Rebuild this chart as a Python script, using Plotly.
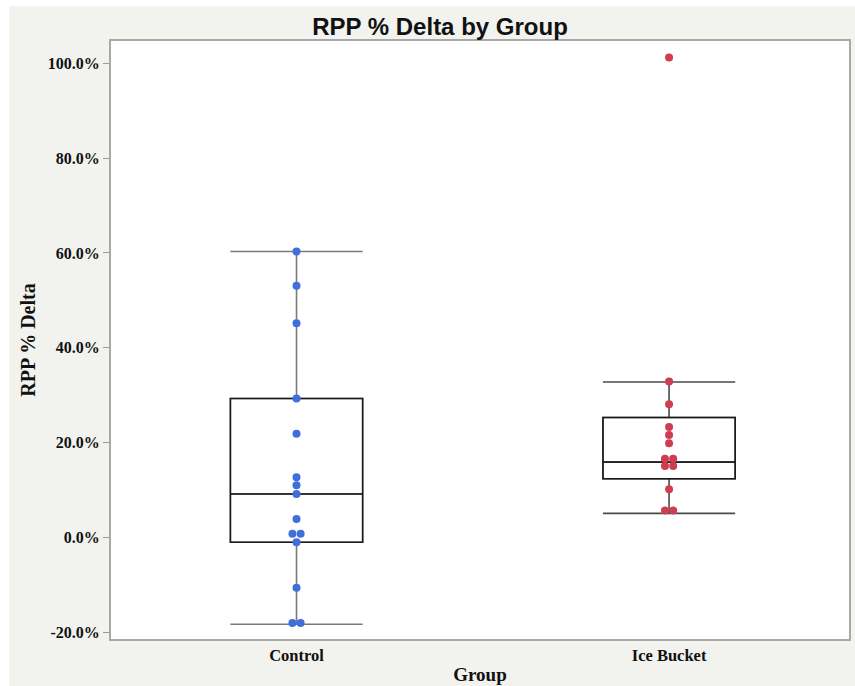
import plotly.graph_objects as go
from collections import Counter

# ---------------- data ----------------
groups = ["Control", "Ice Bucket"]
group_pos = [0, 1]

control_vals = [60.3, 53.1, 45.2, 29.3, 21.9, 12.7, 11.0, 9.2, 3.9,
                0.8, 0.8, -1.0, -10.6, -18.0, -18.0]
ice_vals = [101.2, 32.9, 28.1, 23.3, 21.6, 19.9, 16.6, 16.6, 15.1, 15.1,
            10.2, 5.7, 5.7]

# box statistics as drawn
box_q1 = [-1.0, 12.4]
box_median = [9.2, 15.9]
box_q3 = [29.3, 25.3]
box_low = [-18.3, 5.1]
box_high = [60.3, 32.8]

y_ticks = [-20, 0, 20, 40, 60, 80, 100]

point_colors = ["#3f6fdc", "#cf3d50"]
whisker_colors = ["#7a7a7a", "#4a4a4a"]

serif = "Liberation Serif, Times New Roman, serif"
sans = "Liberation Sans, Arial, sans-serif"

fig = go.Figure()

BOX_W = 0.355
for i, g in enumerate(groups):
    # gray box + whiskers
    fig.add_trace(go.Box(
        x=[group_pos[i]], q1=[box_q1[i]], median=[box_median[i]], q3=[box_q3[i]],
        lowerfence=[box_low[i]], upperfence=[box_high[i]],
        width=BOX_W, whiskerwidth=1, boxpoints=False,
        line=dict(color=whisker_colors[i], width=1.6),
        fillcolor="rgba(0,0,0,0)", showlegend=False, hoverinfo="skip"))
    # black box outline on top
    fig.add_trace(go.Box(
        x=[group_pos[i]], q1=[box_q1[i]], median=[box_median[i]], q3=[box_q3[i]],
        lowerfence=[box_q1[i]], upperfence=[box_q3[i]],
        width=BOX_W, whiskerwidth=0, boxpoints=False,
        line=dict(color="#1a1a1a", width=1.5),
        fillcolor="rgba(0,0,0,0)", showlegend=False, hoverinfo="skip"))

# points, tied values spread side by side
def spread(vals, center, step=0.022):
    counts = Counter(vals)
    seen = Counter()
    xs = []
    for v in vals:
        n = counts[v]
        k = seen[v]
        seen[v] += 1
        xs.append(center + (k - (n - 1) / 2) * step)
    return xs

for i, vals in enumerate([control_vals, ice_vals]):
    fig.add_trace(go.Scatter(
        x=spread(vals, group_pos[i]), y=vals, mode="markers",
        marker=dict(color=point_colors[i], size=8),
        showlegend=False, name=groups[i]))

# white outer border strips (panel is inset)
W, H = 855, 686
L, R, T, B = 111, 4, 41, 44
pw, ph = W - L - R, H - T - B
def px_x(p):
    return (p - L) / pw
def px_y(p):
    return (H - B - p) / ph

fig.add_shape(type="rect", xref="paper", yref="paper",
              x0=px_x(-5), x1=px_x(9), y0=px_y(H + 5), y1=px_y(-5),
              fillcolor="white", line_width=0, layer="below")
fig.add_shape(type="rect", xref="paper", yref="paper",
              x0=px_x(-5), x1=px_x(W + 5), y0=px_y(6), y1=px_y(-5),
              fillcolor="white", line_width=0, layer="below")

fig.update_layout(
    width=W, height=H,
    margin=dict(l=L, r=R, t=T, b=B, pad=0),
    paper_bgcolor="#f2f2ee",
    plot_bgcolor="white",
    title=dict(text="<b>RPP % Delta by Group</b>", x=440 / W, xref="container",
               xanchor="center", y=1 - 27 / H, yref="container", yanchor="middle",
               font=dict(family=sans, size=24, color="#111111")),
    xaxis=dict(range=[-0.498, 1.483], tickvals=group_pos,
               ticktext=[f"<b>{g}</b>" for g in groups],
               tickfont=dict(family=serif, size=16.5, color="#111111"),
               showgrid=False, zeroline=False, ticks="",
               showline=True, linecolor="#a8a8a8", linewidth=2, mirror=True,
               title=dict(text="<b>Group</b>", standoff=4,
                          font=dict(family=serif, size=19, color="#111111"))),
    yaxis=dict(range=[-21.4, 104.7], tickvals=y_ticks,
               ticktext=[f"<b>{v:.1f}%</b>" for v in y_ticks],
               tickfont=dict(family=serif, size=16, color="#111111"),
               showgrid=False, zeroline=False,
               ticks="outside", ticklen=6, tickcolor="#9a9a9a", tickwidth=1,
               showline=True, linecolor="#a8a8a8", linewidth=2, mirror=True,
               title=dict(text="<b>RPP % Delta</b>", standoff=7,
                          font=dict(family=serif, size=20, color="#111111"))),
)

fig.write_html("out.html")
